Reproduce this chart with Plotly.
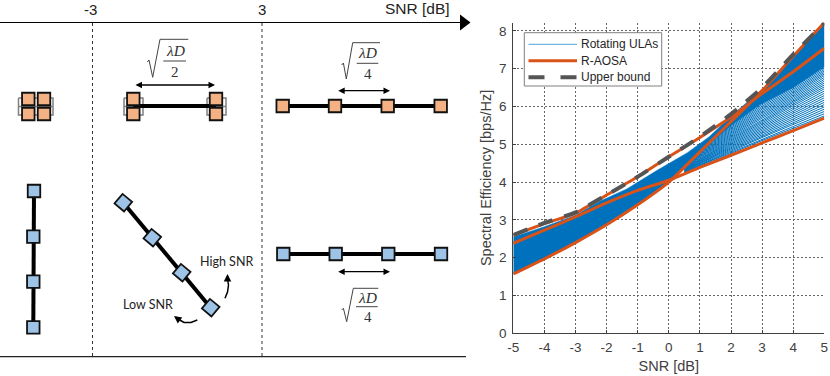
# SNR regimes sketch (left) next to the spectral efficiency curves (right)
import plotly.graph_objects as go

# --- right panel data ---
snr = [-5, -4, -3, -2, -1, 0, 1, 2, 3, 4, 5]
x_tick_vals = [-5, -4, -3, -2, -1, 0, 1, 2, 3, 4, 5]
x_tick_text = ["-5", "-4", "-3", "-2", "-1", "0", "1", "2", "3", "4", "5"]
upper_bound = [2.6, 2.92, 3.2, 3.66, 4.14, 4.67, 5.2, 5.8, 6.5, 7.38, 8.2]
aosa_top = [2.6, 2.9, 3.18, 3.66, 4.14, 4.67, 5.18, 5.72, 6.34, 6.92, 7.54]
aosa_mid = [2.38, 2.73, 3.08, 3.45, 3.78, 4.05, 4.39, 4.71, 5.04, 5.36, 5.69]
aosa_low = [1.57, 1.97, 2.4, 2.87, 3.4, 4.0, 4.8, 5.6, 6.42, 7.33, 8.22]

# solid blue part of the ULA family
band_snr = [-5, -4, -3, -2.2, -1.35, -0.4, 0.6, 1.3, 1.75, 2, 3, 4, 5,
            5, 4, 2.93, 2, 1, 0, -1, -2, -3, -4, -5]
band_val = [2.55, 2.82, 3.12, 3.5, 3.82, 4.3, 4.78, 5.2, 5.55, 5.75, 6.45, 7.33, 8.2,
            7.05, 6.5, 6.05, 5.5, 4.8, 4.0, 3.4, 2.87, 2.4, 1.97, 1.57]

# separate ULA curves where the family fans out
fan_snr = [0.5, 1, 2, 3, 4, 5]
fan_curves = [
    [4.24, 4.42, 4.76, 5.10, 5.42, 5.75],
    [4.25, 4.44, 4.79, 5.14, 5.47, 5.81],
    [4.26, 4.45, 4.82, 5.18, 5.52, 5.87],
    [4.27, 4.47, 4.85, 5.21, 5.57, 5.93],
    [4.28, 4.49, 4.88, 5.25, 5.62, 5.99],
    [4.29, 4.50, 4.91, 5.29, 5.67, 6.05],
    [4.30, 4.52, 4.94, 5.33, 5.72, 6.11],
    [4.31, 4.53, 4.97, 5.37, 5.77, 6.17],
    [4.32, 4.55, 5.00, 5.41, 5.82, 6.23],
    [4.33, 4.57, 5.03, 5.45, 5.87, 6.29],
    [4.34, 4.58, 5.06, 5.49, 5.92, 6.35],
    [4.35, 4.60, 5.09, 5.53, 5.97, 6.41],
    [4.36, 4.62, 5.12, 5.57, 6.02, 6.47],
    [4.37, 4.64, 5.15, 5.61, 6.06, 6.52],
    [4.38, 4.66, 5.18, 5.65, 6.10, 6.57],
    [4.39, 4.68, 5.21, 5.69, 6.14, 6.62],
    [4.40, 4.70, 5.24, 5.73, 6.18, 6.67],
    [4.41, 4.72, 5.27, 5.77, 6.22, 6.72],
    [4.42, 4.74, 5.30, 5.81, 6.26, 6.77],
    [4.43, 4.76, 5.33, 5.85, 6.30, 6.82],
    [4.44, 4.78, 5.36, 5.89, 6.34, 6.86],
    [4.45, 4.80, 5.39, 5.93, 6.38, 6.90],
    [4.46, 4.82, 5.42, 5.97, 6.42, 6.94],
    [4.47, 4.84, 5.45, 6.01, 6.46, 6.98],
    [4.48, 4.86, 5.48, 6.05, 6.50, 7.02],
    [4.49, 4.88, 5.51, 6.09, 6.54, 7.06],
]

# --- legend, hand placed so the rows sit as tight as in the picture ---
legend_labels = ["Rotating ULAs", "R-AOSA", "Upper bound"]
legend_box_x = [524.3, 661.7, 661.7, 524.3, 524.3]
legend_box_y = [32.7, 32.7, 86, 86, 32.7]
legend_row_y = [44.3, 60.7, 77.3]
legend_sample_x = [528.5, 577]
legend_text_x = 578.5

# --- left panel data, in picture pixels ---
orange_x = [28.3, 44, 28.3, 44, 133.3, 133.3, 216, 216, 282.7, 335, 387.7, 440.7]
orange_y = [99, 99, 114, 114, 99, 114, 99, 114, 106, 106, 106, 106]
blue_x = [34, 33.3, 33.3, 33.3, 283.3, 335.7, 388.3, 441]
blue_y = [191, 236.7, 281.7, 327.3, 254, 254, 254, 254]
tilted_x = [123.3, 152.3, 181.7, 210.7]
tilted_y = [202.7, 237.7, 272.7, 307.7]

# thick black array bars: (x list, y list)
bars = [
    ([133.3, 216], [106, 106]),
    ([282.7, 440.7], [106, 106]),
    ([34, 33.3], [191, 327.3]),
    ([123.3, 210.7], [202.7, 307.7]),
    ([283.3, 441], [254, 254]),
]
# grey frames behind the stacked elements
grey_frames = [
    ([18.5, 53, 53, 18.5, 18.5, None, 18.5, 53], [98, 98, 115, 115, 98, None, 106.5, 106.5]),
    ([124, 143, 143, 124, 124, None, 124, 143], [98, 98, 115, 115, 98, None, 106.5, 106.5]),
    ([207, 226, 226, 207, 207, None, 207, 226], [98, 98, 115, 115, 98, None, 106.5, 106.5]),
]
# square root signs: radical, fraction bar, numerator, denominator
roots = [
    dict(rx=[147.3, 149, 152.7, 160, 188.3], ry=[62, 60, 77.3, 39.3, 39.3],
         bar=[163.3, 186], bar_y=61, tx=175, top_y=50, bot_y=71.7, den="2"),
    dict(rx=[341.7, 343.4, 346.3, 352.7, 380], ry=[65, 63, 79, 42.7, 42.7],
         bar=[356.7, 378.3], bar_y=63.3, tx=367.7, top_y=52.3, bot_y=74, den="4"),
    dict(rx=[341.7, 343.4, 346.7, 353.3, 378.3], ry=[310, 308.3, 321.7, 288.3, 288.3],
         bar=[356, 377.7], bar_y=306.7, tx=367.7, top_y=297.3, bot_y=317.3, den="4"),
]
spacing_arrows = [(134, 215, 85), (336.7, 390, 90.7), (336.7, 390, 271.7)]
regime_x = [92.5, 262]
high_arrow_x = [225, 227.5, 228.5, 227.5]
high_arrow_y = [298.3, 292, 285, 279]
low_arrow_x = [197.3, 191, 184, 178]
low_arrow_y = [320, 322.5, 322.5, 319]

ORANGE = "#D95319"
BLUE = "#0072BD"
DARK = "#404040"
BOUND = "#555555"
FONT = "Liberation Sans"

fig = go.Figure()

# right panel
fig.add_trace(go.Scatter(x=band_snr, y=band_val, mode="lines", fill="toself", fillcolor=BLUE,
                         line=dict(color=BLUE, width=0.5), name="Rotating ULAs", showlegend=False,
                         hoverinfo="skip"))
for curve in fan_curves:
    fig.add_trace(go.Scatter(x=fan_snr, y=curve, mode="lines", name="Rotating ULAs",
                             line=dict(color=BLUE, width=1), showlegend=False))
for curve in [aosa_mid, aosa_top, aosa_low]:
    fig.add_trace(go.Scatter(x=snr, y=curve, mode="lines", name="R-AOSA", showlegend=False,
                             line=dict(color=ORANGE, width=3, shape="spline", smoothing=0.6)))
fig.add_trace(go.Scatter(x=snr, y=upper_bound, mode="lines", name="Upper bound", showlegend=False,
                         line=dict(color=BOUND, width=4, dash="15px,12px", shape="spline", smoothing=0.6)))


def sketch(x, y, **kw):
    fig.add_trace(go.Scatter(x=x, y=y, xaxis="x2", yaxis="y2", showlegend=False,
                             hoverinfo="skip", cliponaxis=False, **kw))


# legend
sketch(legend_box_x, legend_box_y, mode="lines", fill="toself", fillcolor="white",
       line=dict(color="#808080", width=1))
sketch(legend_sample_x, [legend_row_y[0]] * 2, mode="lines", line=dict(color="#4FA3D9", width=1))
sketch(legend_sample_x, [legend_row_y[1]] * 2, mode="lines", line=dict(color=ORANGE, width=3))
sketch(legend_sample_x, [legend_row_y[2]] * 2, mode="lines",
       line=dict(color=BOUND, width=4, dash="16px,16px"))

# left panel
for rx in regime_x:
    sketch([rx, rx], [23, 356], mode="lines", line=dict(color="#333333", width=1, dash="3px,3px"))
sketch([0, 460], [22.5, 22.5], mode="lines", line=dict(color="black", width=1.2))
sketch([463.5], [22.5], mode="markers", marker=dict(symbol="triangle-right", size=14, color="black"))
sketch([0, 466], [356.7, 356.7], mode="lines", line=dict(color="#222222", width=1.2))

for fx, fy in grey_frames:
    sketch(fx, fy, mode="lines", line=dict(color="#808080", width=1.5))
for bx, by in bars:
    sketch(bx, by, mode="lines", line=dict(color="black", width=4))
sketch(orange_x, orange_y, mode="markers",
       marker=dict(symbol="square", size=12.5, color="#F4B183", line=dict(color="#111111", width=1.8)))
sketch(blue_x, blue_y, mode="markers",
       marker=dict(symbol="square", size=12.5, color="#9DC3E6", line=dict(color="#111111", width=1.8)))
sketch(tilted_x, tilted_y, mode="markers",
       marker=dict(symbol="square", size=12.5, angle=40, color="#9DC3E6",
                   line=dict(color="#111111", width=1.8)))
sketch(high_arrow_x, high_arrow_y, mode="lines", line=dict(color="black", width=1.5))
sketch(low_arrow_x, low_arrow_y, mode="lines", line=dict(color="black", width=1.5))

notes = []
for root in roots:
    sketch(root["rx"], root["ry"], mode="lines", line=dict(color="#444444", width=1))
    sketch(root["bar"], [root["bar_y"], root["bar_y"]], mode="lines", line=dict(color="#444444", width=1))
    notes.append(dict(x=root["tx"], y=root["top_y"], text="<i>λD</i>",
                      font=dict(family="Liberation Serif", size=15.5, color="#333333")))
    notes.append(dict(x=root["tx"], y=root["bot_y"], text=root["den"],
                      font=dict(family="Liberation Serif", size=15, color="#333333")))
for label, lx, ly, size in [("-3", 90.3, 9, 15), ("3", 262.3, 9, 15), ("SNR [dB]", 417, 8.5, 15.5)]:
    notes.append(dict(x=lx, y=ly, text=label, font=dict(family=FONT, size=size, color="#222222")))
notes.append(dict(x=226.7, y=261, text="High SNR", font=dict(family="Lato", size=12.5, color="#222222")))
notes.append(dict(x=147.7, y=304, text="Low SNR", font=dict(family="Lato", size=12.5, color="#222222")))
for note in notes:
    note.update(xanchor="center")
for label, row_y in zip(legend_labels, legend_row_y):
    notes.append(dict(x=legend_text_x, y=row_y, text=label, xanchor="left",
                      font=dict(family=FONT, size=12, color="#262626")))
for note in notes:
    note.update(xref="x2", yref="y2", showarrow=False, yanchor="middle")

for x0, x1, ya in spacing_arrows:
    notes.append(dict(x=x1, y=ya, ax=x0, ay=ya, xref="x2", yref="y2", axref="x2", ayref="y2", text="",
                      showarrow=True, arrowside="end+start", arrowhead=2, arrowsize=1, arrowwidth=1.3,
                      arrowcolor="black"))
notes.append(dict(x=high_arrow_x[-1], y=high_arrow_y[-1] - 5, ax=high_arrow_x[-1], ay=high_arrow_y[-1],
                  xref="x2", yref="y2", axref="x2", ayref="y2", text="", showarrow=True,
                  arrowhead=2, arrowsize=1, arrowwidth=1.5, arrowcolor="black"))
notes.append(dict(x=low_arrow_x[-1] - 4, y=low_arrow_y[-1] - 3, ax=low_arrow_x[-1], ay=low_arrow_y[-1],
                  xref="x2", yref="y2", axref="x2", ayref="y2", text="", showarrow=True,
                  arrowhead=2, arrowsize=1, arrowwidth=1.5, arrowcolor="black"))

fig.update_layout(
    width=830, height=376, margin=dict(l=0, r=0, t=0, b=0),
    paper_bgcolor="white", plot_bgcolor="rgba(0,0,0,0)",
    font=dict(family=FONT, color=DARK),
    annotations=notes, showlegend=False,
    xaxis=dict(domain=[513.3 / 830, 824.3 / 830], range=[-5, 5], tickvals=x_tick_vals, ticktext=x_tick_text,
               automargin=False, ticklabelstandoff=1,
               title=dict(text="SNR [dB]", font=dict(size=14.5, color=DARK), standoff=7),
               tickfont=dict(size=13.5, color=DARK), ticks="inside", ticklen=3, tickcolor=DARK,
               showline=True, linecolor=DARK, linewidth=1, zeroline=False,
               showgrid=True, gridcolor="#666666", griddash="2px,2px", gridwidth=1, anchor="y"),
    yaxis=dict(domain=[42.7 / 376, 353.4 / 376], range=[0, 8.22], tick0=0, dtick=1,
               automargin=False, ticklabelstandoff=3,
               title=dict(text="Spectral Efficiency [bps/Hz]", font=dict(size=14.5, color=DARK), standoff=3),
               tickfont=dict(size=13.5, color=DARK), ticks="inside", ticklen=3, tickcolor=DARK,
               showline=True, linecolor=DARK, linewidth=1, zeroline=False,
               showgrid=True, gridcolor="#666666", griddash="2px,2px", gridwidth=1, anchor="x"),
    xaxis2=dict(domain=[0, 1], range=[0, 830], visible=False, fixedrange=True, anchor="y2", automargin=False),
    yaxis2=dict(domain=[0, 1], range=[376, 0], visible=False, fixedrange=True, anchor="x2", automargin=False),
)

# page body has a default margin that would push the figure off the window
fig.write_html("out.html", config={"displayModeBar": False}, post_script="document.body.style.margin='0';")
